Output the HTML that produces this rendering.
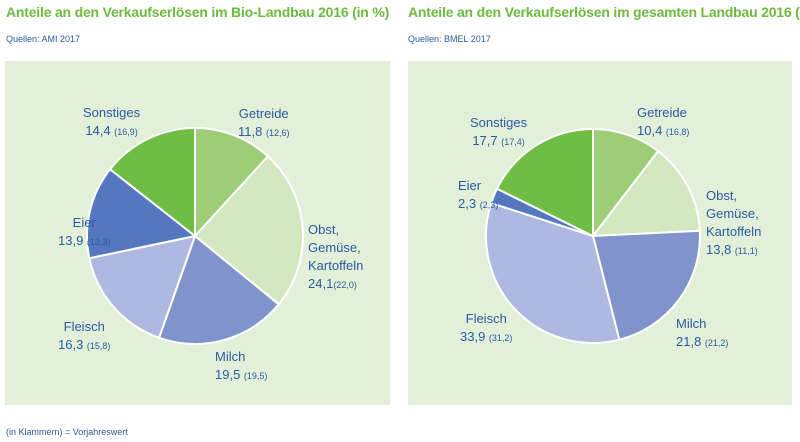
<!DOCTYPE html>
<html><head><meta charset="utf-8"><style>
body{margin:0;width:800px;height:442px;background:#fff;font-family:"Liberation Sans",sans-serif;position:relative;overflow:hidden}
.t{position:absolute;color:#6cbb3f;font-weight:bold;font-size:14px;top:4px;white-space:nowrap;letter-spacing:-0.2px}
.s{position:absolute;color:#2b5aa0;font-size:9px;top:34px}
.p{position:absolute;background:#e3f0d9;top:61px;height:344px}
.l{position:absolute;color:#2b5aa0;font-size:13px;line-height:18px;white-space:nowrap}
.l small{font-size:9px}
</style></head><body>
<div class="t" style="left:6px">Anteile an den Verkaufserlösen im Bio-Landbau 2016 (in %)</div>
<div class="t" style="left:408px">Anteile an den Verkaufserlösen im gesamten Landbau 2016 (in %)</div>
<div class="s" style="left:6px">Quellen: AMI 2017</div>
<div class="s" style="left:408px">Quellen: BMEL 2017</div>
<div class="p" style="left:5px;width:385px"></div>
<div class="p" style="left:408px;width:384px"></div>
<svg id="svg" width="800" height="442" style="position:absolute;left:0;top:0"></svg>
<div class="l" style="left:83px;top:104px;text-align:center">Sonstiges<br>14,4 <small>(16,9)</small></div>
<div class="l" style="left:238px;top:105px;text-align:center">Getreide<br>11,8 <small>(12,6)</small></div>
<div class="l" style="left:308px;top:221px">Obst,<br>Gemüse,<br>Kartoffeln<br>24,1<small>(22,0)</small></div>
<div class="l" style="left:215px;top:348px">Milch<br>19,5 <small>(19,5)</small></div>
<div class="l" style="left:58px;top:318px;text-align:center">Fleisch<br>16,3 <small>(15,8)</small></div>
<div class="l" style="left:58px;top:214px;text-align:center">Eier<br>13,9 <small>(13,3)</small></div>
<div class="l" style="left:470px;top:114px;text-align:center">Sonstiges<br>17,7 <small>(17,4)</small></div>
<div class="l" style="left:637px;top:104px">Getreide<br>10,4 <small>(16,8)</small></div>
<div class="l" style="left:458px;top:177px">Eier<br>2,3 <small>(2,3)</small></div>
<div class="l" style="left:706px;top:187px">Obst,<br>Gemüse,<br>Kartoffeln<br>13,8 <small>(11,1)</small></div>
<div class="l" style="left:460px;top:310px;text-align:center">Fleisch<br>33,9 <small>(31,2)</small></div>
<div class="l" style="left:676px;top:315px">Milch<br>21,8 <small>(21,2)</small></div>
<div class="s" style="left:6px;top:427px">(in Klammern) = Vorjahreswert</div>
<script>
const categories=["Getreide","Obst, Gemüse, Kartoffeln","Milch","Fleisch","Eier","Sonstiges"];
const bioValues=[11.8,24.1,19.5,16.3,13.9,14.4];
const totalValues=[10.4,13.8,21.8,33.9,2.3,17.7];
const colors=["#9dcd76","#d3e8c0","#8094cb","#aeb8e0","#5577bf","#6fbd44"];
const svg=document.getElementById('svg');
function pie(vals,cx,cy,r,prefix){
  const tot=vals.reduce((a,b)=>a+b,0);let a0=0;
  vals.forEach((v,i)=>{
    const a1=a0+v/tot*2*Math.PI;
    const x0=cx+r*Math.sin(a0),y0=cy-r*Math.cos(a0),x1=cx+r*Math.sin(a1),y1=cy-r*Math.cos(a1);
    const p=document.createElementNS('http://www.w3.org/2000/svg','path');
    p.setAttribute('d',`M${cx},${cy}L${x0},${y0}A${r},${r} 0 ${a1-a0>Math.PI?1:0} 1 ${x1},${y1}Z`);
    p.setAttribute('fill',colors[i]);p.setAttribute('stroke','#fff');p.setAttribute('stroke-width','2');
    
    
    svg.appendChild(p);a0=a1;
  });
}
pie(bioValues,195,236,108,'bio');
pie(totalValues,593,236,107,'total');
</script>
</body></html>
